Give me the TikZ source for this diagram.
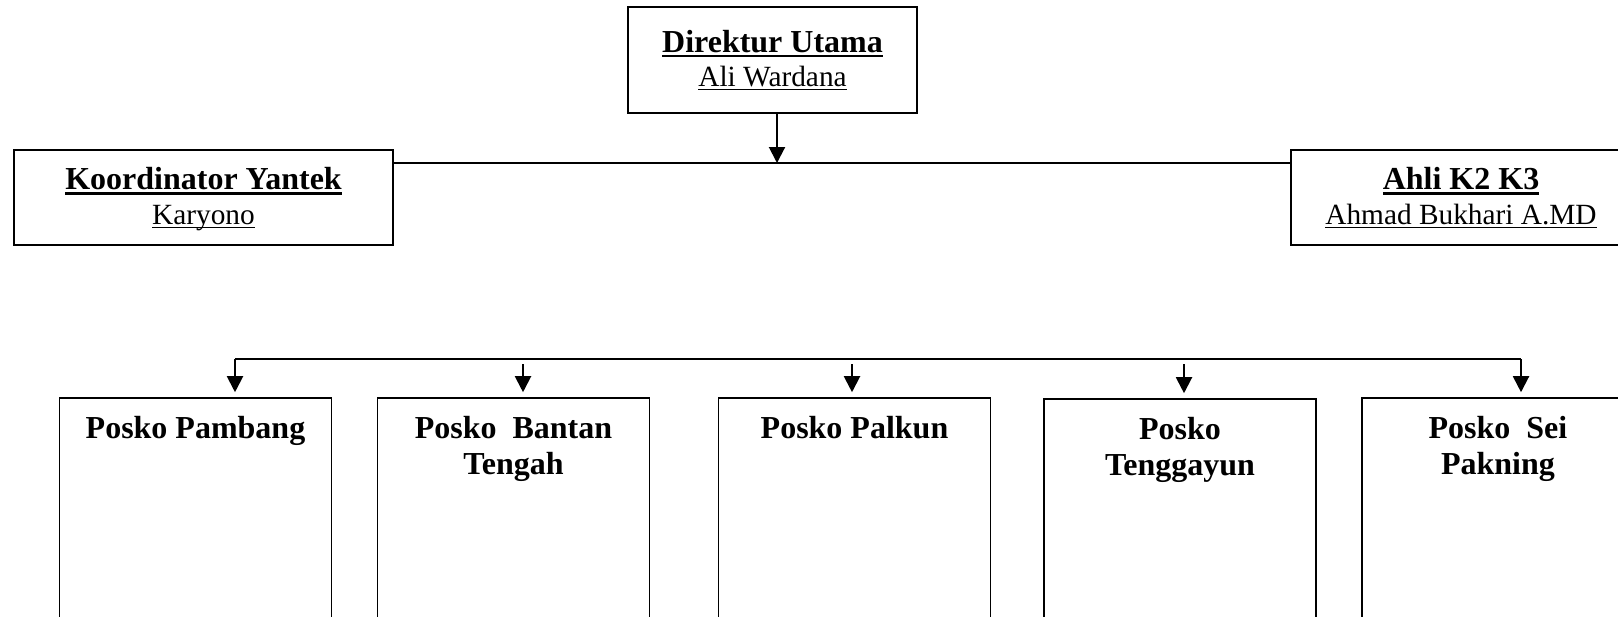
\documentclass[tikz,border=0pt]{standalone}
\usepackage{fontspec}
\setmainfont{Liberation Serif}
\usetikzlibrary{arrows.meta}

\newcommand{\garis}[3]{\leavevmode\setbox0\hbox{#1}\dp0=0pt\vtop{\box0\kern#2\hrule height#3}}
\newcommand{\judul}[1]{{\bfseries\garis{#1}{1.1pt}{0.8pt}}}
\newcommand{\nama}[1]{{\fontsize{11pt}{13pt}\selectfont\garis{#1}{0.9pt}{0.4pt}}}
\newcommand{\isi}[1]{\parbox[t][200pt][t]{102pt}{\centering #1}}

\begin{document}
\begin{tikzpicture}[x=0.375pt, y=-0.375pt,
  kotak/.style={draw, line width=0.7pt, align=center, font=\fontsize{12pt}{13pt}\selectfont},
  posko/.style={draw, line width=0.7pt, anchor=north, inner xsep=0pt, inner ysep=6.7pt,
    font=\fontsize{12pt}{13.5pt}\selectfont\bfseries},
  panah/.style={-{Triangle[width=6pt,length=6pt]}, line width=0.75pt}]
\useasboundingbox (0,0) rectangle (1618,616);
\clip (0,0) rectangle (1618,616);

% pimpinan
\node[kotak, minimum width=108.4pt, minimum height=39.8pt] (direktur) at (772.5,60)
  {\judul{Direktur Utama}\\\nama{Ali Wardana}};
\node[kotak, minimum width=142.1pt, minimum height=35.6pt] (koordinator) at (203.5,197.5)
  {\judul{Koordinator Yantek}\\\nama{Karyono}};
\node[kotak, minimum width=127.5pt, minimum height=35.6pt] (ahli) at (1461,197.5)
  {\judul{Ahli K2 K3}\\\nama{Ahmad Bukhari A.MD}};

\coordinate (tengah) at (777,163);
\draw[panah] (direktur.south -| tengah) -- (tengah);
\draw[line width=0.7pt] (koordinator.east |- tengah) -- (ahli.west |- tengah);

% posko
\node[posko] (pambang) at (195.5,397) {\isi{Posko Pambang}};
\node[posko] (bantan) at (513.5,397) {\isi{Posko~~Bantan\\Tengah}};
\node[posko] (palkun) at (854.5,397) {\isi{Posko Palkun}};
\node[posko] (tenggayun) at (1180,398) {\isi{Posko\\Tenggayun}};
\node[posko] (seipakning) at (1498,397) {\isi{Posko~~Sei\\Pakning}};

\coordinate (kiri) at (235,359);
\coordinate (kanan) at (1521,359);
\draw[line width=0.7pt] (kiri) -- (kanan);
\draw[panah, shorten >=1.8pt] (kiri) -- (kiri |- pambang.north);
\foreach \x/\n in {523/bantan,852/palkun,1184/tenggayun}{
  \coordinate (a\n) at (\x,359);
  \draw[panah, shorten <=2pt, shorten >=1.8pt] (a\n) -- (a\n |- \n.north);
}
\draw[panah, shorten >=1.8pt] (kanan) -- (kanan |- seipakning.north);
\end{tikzpicture}
\end{document}
